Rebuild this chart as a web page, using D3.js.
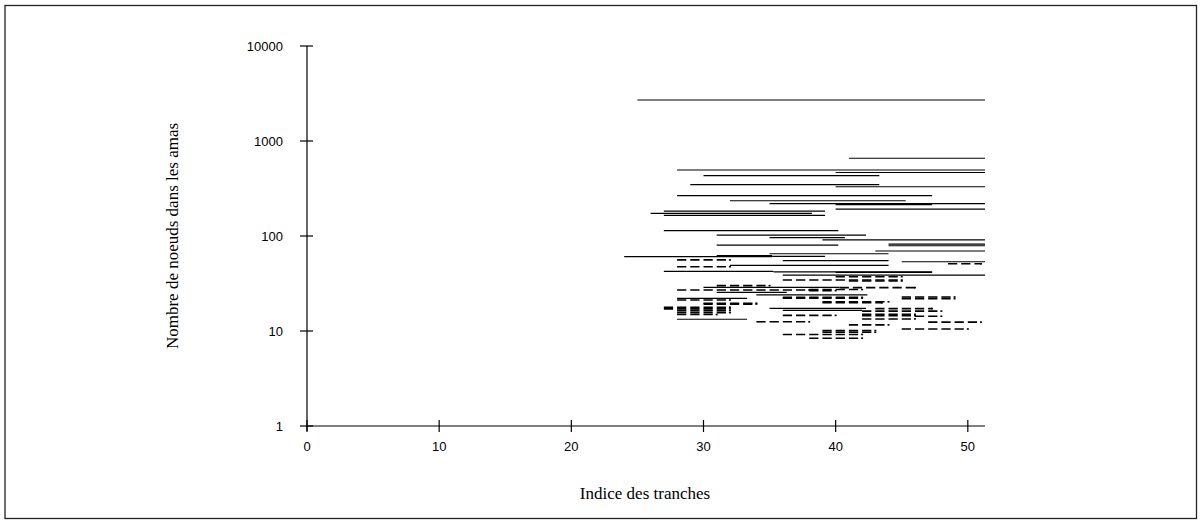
<!DOCTYPE html>
<html>
<head>
<meta charset="utf-8">
<script src="https://cdn.jsdelivr.net/npm/d3@7"></script>
<style>
    body { margin: 0; background: #fff; }
    svg { display: block; }
    .tick-label { font-family: "Liberation Sans", Arial, sans-serif; font-size: 13px; fill: #000; }
    .axis-title { font-family: "Liberation Serif", "Times New Roman", serif; font-size: 17px; fill: #000; }
</style>
</head>
<body>
<div id="chart"></div>
<script>
/**** DATA ****/

// slice indices
var xTicks = [0, 10, 20, 30, 40, 50];
var xMax = 51.3;
// number of nodes, log scale
var yTicks = [1, 10, 100, 1000, 10000];

// clusters drawn as continuous lines: [first slice, last slice, nodes]
var solidClusters = [
    [25, 51.3, 2700],
    [41, 51.3, 658],
    [28, 51.3, 495],
    [40, 51.3, 466],
    [30, 43.3, 431],
    [29, 43.3, 347],
    [40, 51.3, 330],
    [28, 47.3, 266],
    [32, 45.3, 235],
    [35, 51.3, 219],
    [40, 47.3, 214],
    [40, 51.3, 192],
    [27, 39.2, 183],
    [26, 38.2, 173],
    [27, 39.2, 165],
    [27, 40.2, 114],
    [31, 42.3, 102],
    [35, 40.7, 96],
    [39, 51.3, 91],
    [44, 51.3, 82],
    [31, 40.2, 80],
    [44, 51.3, 79],
    [43, 51.3, 69.5],
    [35, 44, 65],
    [31, 35.2, 62],
    [35.2, 39.2, 61],
    [24, 35.2, 60.6],
    [36, 44, 55],
    [45, 51.3, 53.6],
    [32, 44, 49],
    [27, 35.3, 42.5],
    [35.3, 47.3, 42],
    [40, 47.3, 41.5],
    [36, 51.3, 38.8],
    [30, 40.3, 28.8],
    [31, 36.3, 25.5],
    [34, 42.4, 24],
    [28, 33.3, 22],
    [35, 42.3, 17.3],
    [36, 42, 16.5],
    [28, 33.3, 13.3]
];

// clusters drawn as broken lines: [first slice, last slice, nodes]
var dashedClusters = [
    [28, 32, 56],
    [48.5, 51, 51],
    [28, 32, 47.5],
    [40, 45, 37.3],
    [36, 45, 34.4],
    [41, 45, 33.6],
    [31, 35, 30],
    [40.3, 46, 28.6],
    [28, 38, 27],
    [38, 42, 27.3],
    [38, 40, 26.6],
    [36, 42, 22.6],
    [36, 42, 22.2],
    [45, 49, 22.8],
    [45, 49, 21.9],
    [28, 32, 21.2],
    [39, 44, 20.3],
    [39, 43.5, 19.8],
    [30, 34, 19.6],
    [30, 34, 19.2],
    [27, 32, 17.8],
    [27, 32, 17.1],
    [43, 47.3, 17.2],
    [28, 32, 16.4],
    [42, 48, 16.2],
    [28, 32, 15.6],
    [28, 31, 14.9],
    [36, 40, 14.6],
    [42, 46, 15],
    [42, 46, 14.5],
    [46, 48, 14.3],
    [42, 46, 13.4],
    [34, 38, 12.5],
    [47, 51, 12.4],
    [41, 44, 11.6],
    [45, 50, 10.5],
    [39, 43, 10.1],
    [39, 43, 9.7],
    [36, 42, 9.2],
    [38, 42, 8.4]
];

var xTitle = "Indice des tranches";
var yTitle = "Nombre de noeuds dans les amas";

/**** LAYOUT ****/

var WIDTH = 1202;
var HEIGHT = 524;

var svg = d3.select("#chart")
    .append("svg")
    .attr("width", WIDTH)
    .attr("height", HEIGHT);

// frame round the whole picture
svg.append("rect")
    .attr("x", 5)
    .attr("y", 5.5)
    .attr("width", 1191.5)
    .attr("height", 513)
    .attr("fill", "none")
    .attr("stroke", "#222")
    .attr("stroke-width", 1.3);

var xScale = d3.scaleLinear().domain([0, xMax]).range([307, 985]);
var yScale = d3.scaleLog().domain([1, 10000]).range([426, 46]);

/**** AXES ****/

// ticks cross the axis line, so build them by hand from the scales
var axes = svg.append("g").attr("class", "axes");

axes.append("line")
    .attr("x1", xScale(0)).attr("x2", xScale(0))
    .attr("y1", yScale(10000)).attr("y2", yScale(1) + 5)
    .attr("stroke", "#000").attr("stroke-width", 1.2);

axes.append("line")
    .attr("x1", xScale(0)).attr("x2", xScale(xMax))
    .attr("y1", yScale(1)).attr("y2", yScale(1))
    .attr("stroke", "#000").attr("stroke-width", 1.2);

axes.selectAll("line.ytick")
    .data(yTicks)
    .enter()
    .append("line")
    .attr("class", "ytick")
    .attr("x1", xScale(0) - 7).attr("x2", xScale(0) + 6)
    .attr("y1", function(d) { return yScale(d); })
    .attr("y2", function(d) { return yScale(d); })
    .attr("stroke", "#000").attr("stroke-width", 1.2);

axes.selectAll("text.ylabel")
    .data(yTicks)
    .enter()
    .append("text")
    .attr("class", "tick-label")
    .attr("x", xScale(0) - 24)
    .attr("y", function(d) { return yScale(d); })
    .attr("dy", "0.35em")
    .attr("text-anchor", "end")
    .text(function(d) { return d; });

axes.selectAll("line.xtick")
    .data(xTicks)
    .enter()
    .append("line")
    .attr("class", "xtick")
    .attr("x1", function(d) { return xScale(d); })
    .attr("x2", function(d) { return xScale(d); })
    .attr("y1", yScale(1) - 6).attr("y2", yScale(1) + 6)
    .attr("stroke", "#000").attr("stroke-width", 1.2);

axes.selectAll("text.xlabel")
    .data(xTicks)
    .enter()
    .append("text")
    .attr("class", "tick-label")
    .attr("x", function(d) { return xScale(d); })
    .attr("y", yScale(1) + 25)
    .attr("text-anchor", "middle")
    .text(function(d) { return d; });

svg.append("text")
    .attr("class", "axis-title")
    .attr("x", 645)
    .attr("y", 499)
    .attr("text-anchor", "middle")
    .text(xTitle);

svg.append("text")
    .attr("class", "axis-title")
    .attr("transform", "translate(178," + 236 + ") rotate(-90)")
    .attr("text-anchor", "middle")
    .text(yTitle);

/**** CLUSTERS ****/

var unit = xScale(1) - xScale(0);

svg.append("g")
    .attr("class", "solid")
    .selectAll("line")
    .data(solidClusters)
    .enter()
    .append("line")
    .attr("x1", function(d) { return xScale(d[0]); })
    .attr("x2", function(d) { return xScale(d[1]); })
    .attr("y1", function(d) { return yScale(d[2]); })
    .attr("y2", function(d) { return yScale(d[2]); })
    .attr("stroke", "#000")
    .attr("stroke-width", 1.2);

var dashed = svg.append("g").attr("class", "dashed");

// one dash per slice step
dashed.selectAll("line.dash")
    .data(dashedClusters)
    .enter()
    .append("line")
    .attr("class", "dash")
    .attr("x1", function(d) { return xScale(d[0]); })
    .attr("x2", function(d) { return xScale(d[1]); })
    .attr("y1", function(d) { return yScale(d[2]); })
    .attr("y2", function(d) { return yScale(d[2]); })
    .attr("stroke", "#000")
    .attr("stroke-width", 1.6)
    .attr("stroke-dasharray", (unit * 0.7) + "," + (unit * 0.3));

// small end point marking the last slice
dashed.selectAll("line.end")
    .data(dashedClusters)
    .enter()
    .append("line")
    .attr("class", "end")
    .attr("x1", function(d) { return xScale(d[1]) - 1; })
    .attr("x2", function(d) { return xScale(d[1]) + 1; })
    .attr("y1", function(d) { return yScale(d[2]); })
    .attr("y2", function(d) { return yScale(d[2]); })
    .attr("stroke", "#000")
    .attr("stroke-width", 1.6);
</script>
</body>
</html>
